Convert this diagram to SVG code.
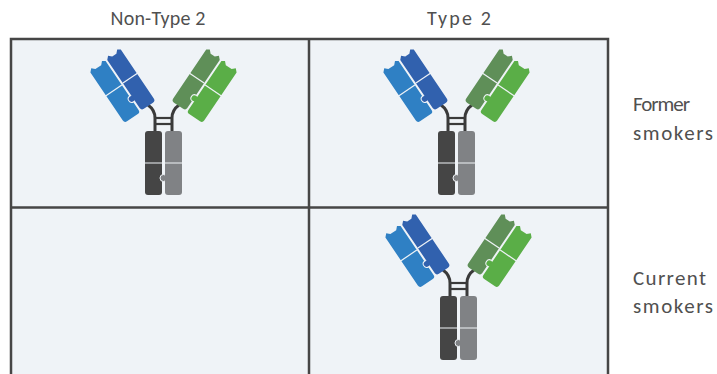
<svg xmlns="http://www.w3.org/2000/svg" xmlns:xlink="http://www.w3.org/1999/xlink" width="717" height="374" viewBox="0 0 717 374">
  <style>
    .lbl { font-family: Carlito, Lato, "Liberation Sans", sans-serif; fill: #505050; }
    .top { font-size: 20px; }
    .side { font-size: 21px; }
    .cell { fill: #eff3f7; }
    .grid { stroke: #464646; stroke-width: 2.5; fill: none; }
    .split { stroke: #eff3f7; stroke-width: 1.2; }
    .hinge { stroke: #3a3a3a; stroke-width: 3; fill: none; }
    .bar { stroke: #3a3a3a; stroke-width: 2.2; }
  </style>
  <defs>
    <!-- one antibody, drawn in the coordinates of the upper-left cell -->
    <g id="antibody">
      <!-- hinge and disulfide ladder -->
      <path class="hinge" d="M148,105 Q155,110 155,118 L155,132"/>
      <path class="hinge" d="M179,105 Q172,110 172,118 L172,132"/>
      <line class="bar" x1="155" y1="118" x2="172" y2="118"/>
      <line class="bar" x1="155" y1="124" x2="172" y2="124"/>
      <!-- Fc stems -->
      <rect x="145" y="131" width="17" height="64" rx="3" fill="#454545"/>
      <circle cx="163.5" cy="178" r="3.5" fill="#808285" stroke="#eff3f7" stroke-width="1"/>
      <rect x="165" y="131" width="17" height="64" rx="3" fill="#808285"/>
      <line class="split" x1="144" y1="163" x2="183" y2="163"/>
      <!-- left Fab arm (blue) -->
      <g transform="translate(148,106) rotate(-34)">
        <path fill="#2f80c4" d="M-29,-60 L-26,-63 L-23,-60 L-16,-60 L-13,-63 L-10,-61 L-10,-2 Q-10,1 -13,1 L-26,1 Q-29,1 -29,-2 Z"/>
        <circle cx="-9.5" cy="-15" r="3.5" fill="#3161ae" stroke="#eff3f7" stroke-width="1"/>
        <path fill="#3161ae" d="M-8,-61 L-5,-64 L-2,-61 L3,-61 L6,-64 L9,-62 L9,-3 Q9,0 6,0 L-5,0 Q-8,0 -8,-3 Z"/>
        <line class="split" x1="-30" y1="-32" x2="-10" y2="-32"/>
        <line class="split" x1="-8" y1="-33" x2="10" y2="-33"/>
      </g>
      <!-- right Fab arm (green), mirror of the left one -->
      <g transform="translate(327,0) scale(-1,1) translate(148,106) rotate(-34)">
        <path fill="#5f8f58" d="M-8,-61 L-5,-64 L-2,-61 L3,-61 L6,-64 L9,-62 L9,-3 Q9,0 6,0 L-5,0 Q-8,0 -8,-3 Z"/>
        <circle cx="-8.5" cy="-15" r="3.5" fill="#5aae47" stroke="#eff3f7" stroke-width="1"/>
        <path fill="#5aae47" d="M-29,-60 L-26,-63 L-23,-60 L-16,-60 L-13,-63 L-10,-61 L-10,-2 Q-10,1 -13,1 L-26,1 Q-29,1 -29,-2 Z"/>
        <line class="split" x1="-30" y1="-32" x2="-10" y2="-32"/>
        <line class="split" x1="-8" y1="-33" x2="10" y2="-33"/>
      </g>
    </g>
  </defs>

  <rect width="717" height="374" fill="#ffffff"/>

  <!-- table -->
  <g id="table">
    <rect class="cell" x="11" y="39" width="597" height="340"/>
    <path class="grid" d="M11,376 L11,39 L608,39 L608,376"/>
    <line class="grid" x1="11" y1="207.5" x2="608" y2="207.5"/>
    <line class="grid" x1="309" y1="39" x2="309" y2="376"/>
  </g>

  <!-- column and row headings -->
  <g id="headings">
    <text class="lbl top" x="158" y="25" text-anchor="middle" textLength="95" lengthAdjust="spacing">Non-Type 2</text>
    <text class="lbl top" x="459" y="25" text-anchor="middle" textLength="64" lengthAdjust="spacing">Type 2</text>
    <text class="lbl side" x="633" y="111" textLength="57" lengthAdjust="spacing">Former</text>
    <text class="lbl side" x="633" y="140" textLength="80" lengthAdjust="spacing">smokers</text>
    <text class="lbl side" x="633" y="285" textLength="73" lengthAdjust="spacing">Current</text>
    <text class="lbl side" x="633" y="313" textLength="80" lengthAdjust="spacing">smokers</text>
  </g>

  <!-- antibodies -->
  <g id="antibody-former-nontype2"><use xlink:href="#antibody"/></g>
  <g id="antibody-former-type2"><use xlink:href="#antibody" transform="translate(293,0)"/></g>
  <g id="antibody-current-type2"><use xlink:href="#antibody" transform="translate(295,165)"/></g>
</svg>
